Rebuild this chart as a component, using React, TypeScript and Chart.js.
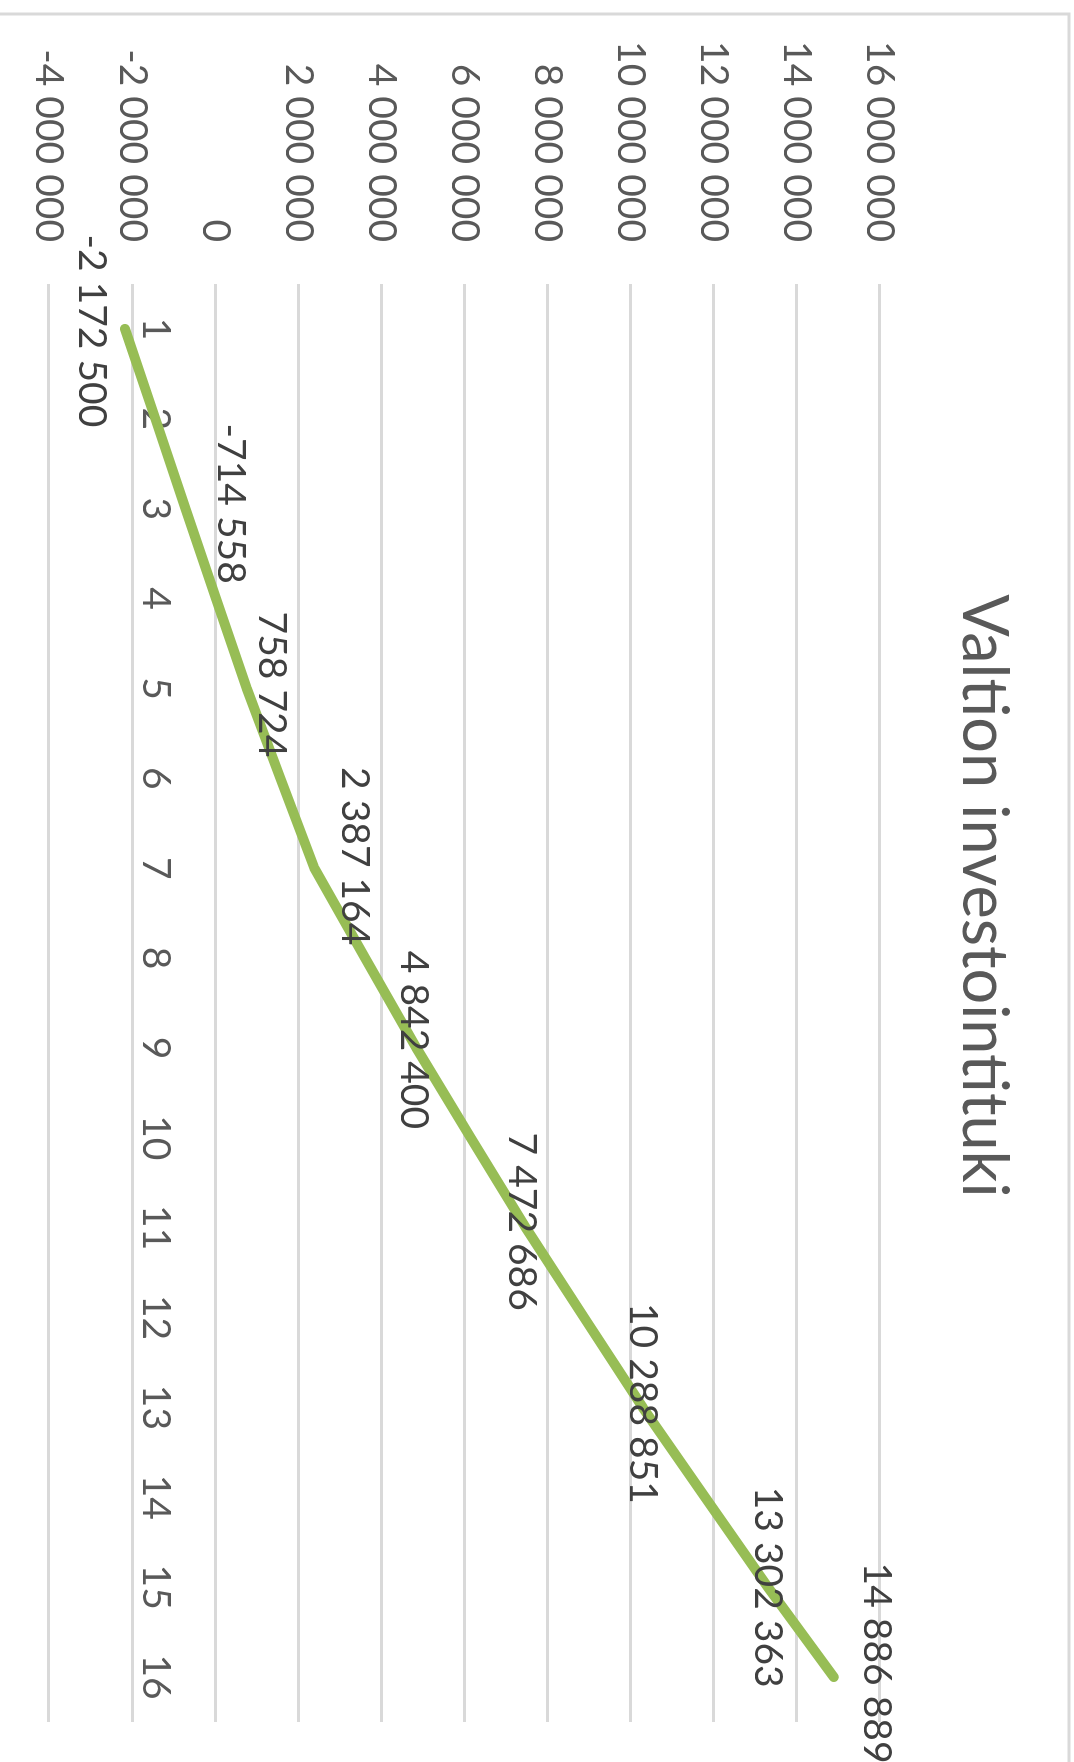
import React, { useEffect, useRef } from "react";
import { Chart, registerables } from "chart.js";

Chart.register(...registerables);

// ---- data ----
const TITLE = "Valtion investointituki";
const categories = ["1", "2", "3", "4", "5", "6", "7", "8", "9", "10", "11", "12", "13", "14", "15", "16"];
const values = [
  -2172500, -1440000, -714558, 20000, 758724, 1570000, 2387164, 3610000,
  4842400, 6150000, 7472686, 8880000, 10288851, 11790000, 13302363, 14886889,
];
const labeledIndexes = [0, 2, 4, 6, 8, 10, 12, 14, 15];
const yMin = -4000000;
const yMax = 16000000;
const yStep = 2000000;

// ---- styles ----
const PAGE_W = 1074;
const W = 1762; // unrotated width (page height)
const HC = 1100; // unrotated canvas height (extends past the page's left edge)
const FONT = "Lato";
const TEXT = "#595959";
const LABEL_TEXT = "#404040";
const GRID = "#d9d9d9";
const LINE = "#97bd55";
// label offsets in px: up = perpendicular to category axis, along = along it
const LABEL_SHIFT: Record<number, { up: number; along: number }> = {
  0: { up: -33, along: 2 },
  2: { up: 45, along: -5 },
  4: { up: 25, along: -4 },
  6: { up: 40, along: -12 },
  8: { up: -3, along: -8 },
  10: { up: -4, along: -6 },
  12: { up: 0, along: -4 },
  14: { up: 0, along: 0 },
  15: { up: 43, along: -14 },
};

function fmt(n: number): string {
  const s = Math.abs(Math.round(n))
    .toString()
    .replace(/\B(?=(\d{3})+(?!\d))/g, " ");
  return (n < 0 ? "-" : "") + s;
}

const backgroundPlugin = {
  id: "bgBorder",
  beforeDraw(chart: any) {
    const ctx = chart.ctx;
    ctx.save();
    ctx.fillStyle = "#ffffff";
    ctx.fillRect(0, 0, chart.width, chart.height);
    ctx.strokeStyle = GRID;
    ctx.lineWidth = 3;
    ctx.strokeRect(14, 5, chart.width + 40, chart.height + 40);
    // chart title
    ctx.fillStyle = TEXT;
    ctx.font = `63px ${FONT}`;
    ctx.textAlign = "center";
    ctx.textBaseline = "middle";
    ctx.fillText(TITLE, 896, 91);
    ctx.restore();
  },
};

const labelPlugin = {
  id: "valueLabels",
  afterDatasetsDraw(chart: any) {
    const meta = chart.getDatasetMeta(0);
    const ctx = chart.ctx;
    ctx.save();
    ctx.font = `39px ${FONT}`;
    ctx.fillStyle = LABEL_TEXT;
    ctx.textAlign = "center";
    ctx.textBaseline = "middle";
    labeledIndexes.forEach((idx) => {
      const el = meta.data[idx];
      if (!el) return;
      const off = LABEL_SHIFT[idx] || { up: 0, along: 0 };
      ctx.fillText(fmt(values[idx]), el.x + off.along, el.y - off.up);
    });
    ctx.restore();
  },
};

export default function App() {
  const ref = useRef<HTMLCanvasElement | null>(null);

  useEffect(() => {
    if (!ref.current) return;
    const chart = new Chart(ref.current, {
      type: "line",
      data: {
        labels: categories,
        datasets: [
          {
            data: values,
            borderColor: LINE,
            backgroundColor: LINE,
            borderWidth: 10,
            pointRadius: 0,
            pointHoverRadius: 0,
            tension: 0,
            fill: false,
            borderCapStyle: "round",
            borderJoinStyle: "round",
          },
        ],
      },
      options: {
        animation: false,
        responsive: false,
        devicePixelRatio: 1,
        layout: { padding: { left: 0, right: 40, top: 194, bottom: HC - 1025 } },
        plugins: {
          legend: { display: false },
          tooltip: { enabled: false },
          title: { display: false },
        },
        scales: {
          x: {
            type: "category",
            position: { y: 0 },
            offset: true,
            grid: { display: false, drawTicks: false },
            border: { display: false },
            ticks: {
              color: TEXT,
              font: { family: FONT, size: 39 },
              padding: 36,
              maxRotation: 0,
              autoSkip: false,
            },
          },
          y: {
            type: "linear",
            min: yMin,
            max: yMax,
            ticks: {
              stepSize: yStep,
              padding: 42,
              color: TEXT,
              font: { family: FONT, size: 39 },
              callback: (v: any) => fmt(Number(v)),
            },
            grid: { color: GRID, lineWidth: 3, drawTicks: false },
            border: { display: false },
            afterFit: (s: any) => {
              s.width = 284;
            },
          },
        },
      } as any,
      plugins: [backgroundPlugin, labelPlugin],
    });
    return () => chart.destroy();
  }, []);

  return (
    <div
      style={{
        position: "absolute",
        left: 0,
        top: 0,
        width: PAGE_W,
        height: W,
        overflow: "hidden",
        background: "#fff",
      }}
    >
      <div
        style={{
          position: "absolute",
          left: 0,
          top: 0,
          width: W,
          height: HC,
          transformOrigin: "0 0",
          transform: `translateX(${PAGE_W}px) rotate(90deg)`,
        }}
      >
        <canvas ref={ref} width={W} height={HC} style={{ display: "block", width: W, height: HC }} />
      </div>
    </div>
  );
}
